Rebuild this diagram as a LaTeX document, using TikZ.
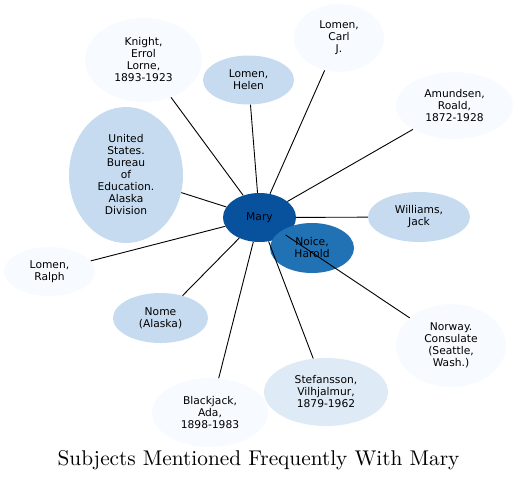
\documentclass[tikz,border=0pt]{standalone}
\usepackage{fontspec}
\newfontfamily\dvfont{DejaVu Sans}
\newfontfamily\tfont{lmroman10-regular.otf}
\usetikzlibrary{shapes.geometric}
\definecolor{cA}{HTML}{F7FBFF}
\definecolor{cB}{HTML}{DEEBF7}
\definecolor{cC}{HTML}{C6DBEF}
\definecolor{cD}{HTML}{2171B5}
\definecolor{cE}{HTML}{08519C}
\tikzset{
  ent/.style={ellipse, inner sep=0pt, align=center, draw=none,
    font=\dvfont\fontsize{10.7}{12}\selectfont},
  conn/.style={draw=black, line width=0.9pt},
}
\begin{document}
\begin{tikzpicture}[x=1pt,y=-1pt]
\useasboundingbox (0,0) rectangle (518,482);
\node[ent, fill=cA, minimum width=117pt, minimum height=84pt] (knight) at (143.5,60) {Knight,\\Errol\\Lorne,\\1893-1923};
\node[ent, fill=cC, minimum width=91pt, minimum height=49pt] (helen) at (248.5,80) {Lomen,\\Helen};
\node[ent, fill=cA, minimum width=90pt, minimum height=68pt] (carl) at (339,38) {Lomen,\\Carl\\J.};
\node[ent, fill=cA, minimum width=117pt, minimum height=67pt] (amund) at (454.5,105.5) {Amundsen,\\Roald,\\1872-1928};
\node[ent, fill=cC, minimum width=114pt, minimum height=136pt] (bureau) at (126,175) {United\\States.\\Bureau\\of\\Education.\\Alaska\\Division};
\node[ent, fill=cA, minimum width=91pt, minimum height=49pt] (ralph) at (49.5,271.5) {Lomen,\\Ralph};
\node[ent, fill=cC, minimum width=102pt, minimum height=50pt] (williams) at (419,217) {Williams,\\Jack};
\node[ent, fill=cC, minimum width=95pt, minimum height=50pt] (nome) at (160.5,318) {Nome\\(Alaska)};
\node[ent, fill=cA, minimum width=116pt, minimum height=69pt] (black) at (210,412.5) {Blackjack,\\Ada,\\1898-1983};
\node[ent, fill=cB, minimum width=124pt, minimum height=68pt] (stef) at (326,392) {Stefansson,\\Vilhjalmur,\\1879-1962};
\node[ent, fill=cA, minimum width=110pt, minimum height=83pt] (norway) at (451,345.5) {Norway.\\Consulate\\(Seattle,\\Wash.)};
\node[ent, fill=cE, minimum width=73pt, minimum height=49pt] (mary) at (259.5,217.5) {Mary};
\node[ent, fill=cD, minimum width=84pt, minimum height=50pt] (noice) at (312,248) {Noice,\\Harold};
\foreach \t in {knight,helen,carl,amund,bureau,ralph,williams,nome,black,stef,norway}
  \draw[conn] (mary) -- (\t);
\node (title) at (258.5,460) {\tfont\fontsize{21.3}{24}\selectfont Subjects Mentioned Frequently With Mary};
\end{tikzpicture}
\end{document}
